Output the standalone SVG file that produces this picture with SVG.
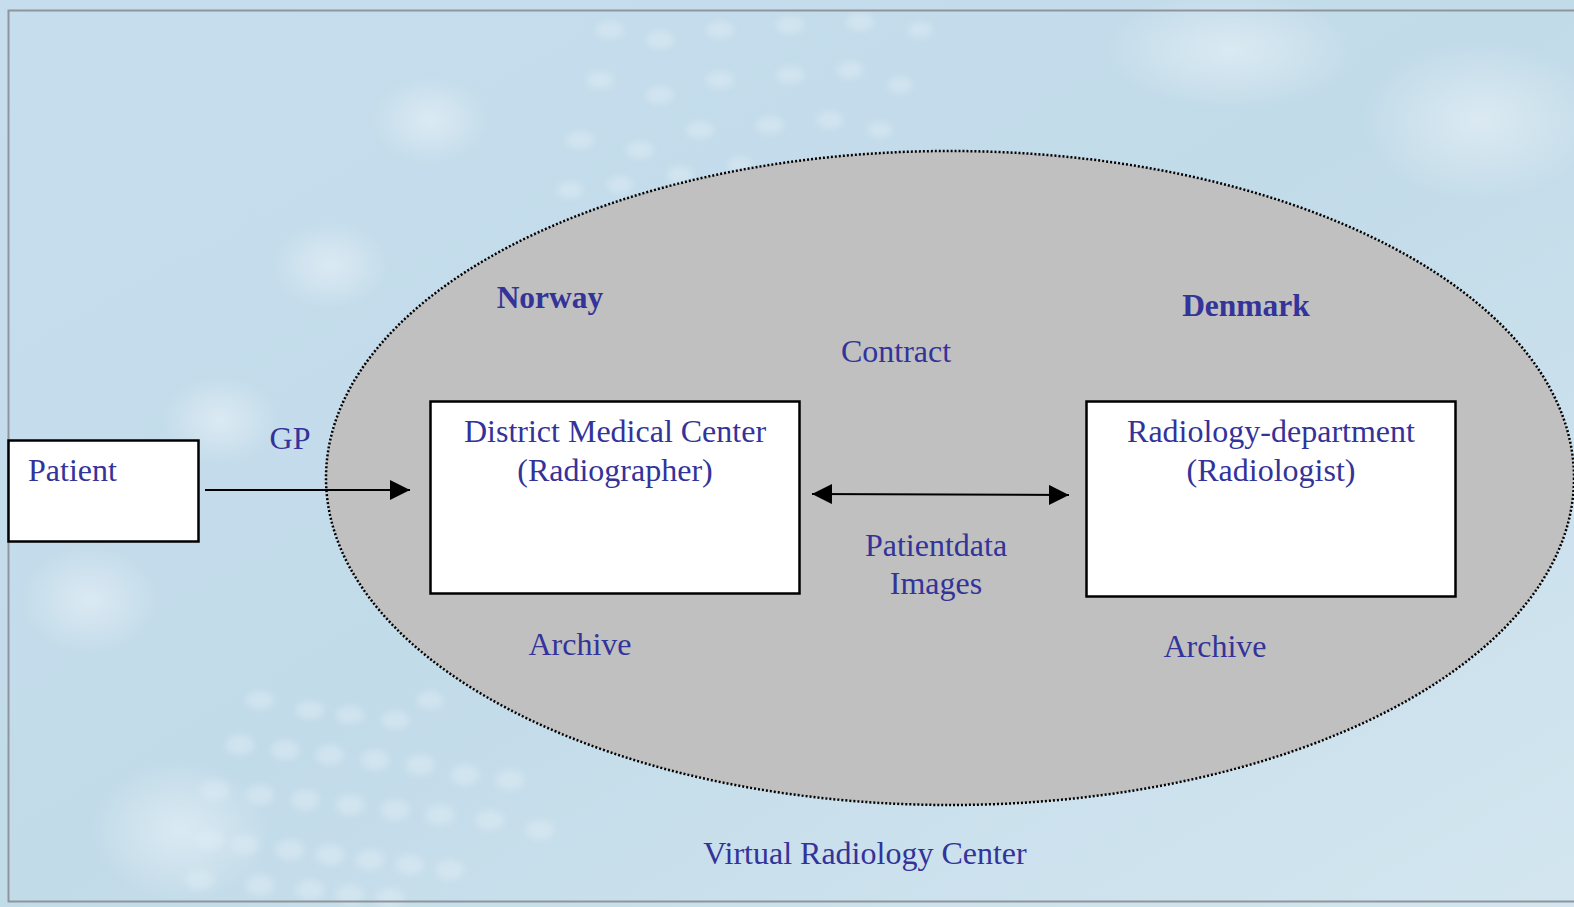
<svg xmlns="http://www.w3.org/2000/svg" width="1574" height="907" viewBox="0 0 1574 907">
<defs>
<linearGradient id="bg" x1="0" y1="0" x2="1" y2="1">
<stop offset="0" stop-color="#c6dded"/>
<stop offset="0.5" stop-color="#c2dbe9"/>
<stop offset="1" stop-color="#d3e6f0"/>
</linearGradient>
<radialGradient id="glow" cx="0.5" cy="0.5" r="0.5">
<stop offset="0" stop-color="#ffffff" stop-opacity="0.4"/>
<stop offset="1" stop-color="#ffffff" stop-opacity="0"/>
</radialGradient>
<filter id="blur" x="-50%" y="-50%" width="200%" height="200%"><feGaussianBlur stdDeviation="3"/></filter>
<marker id="arr" viewBox="0 0 10 10" refX="10" refY="5" markerWidth="20" markerHeight="20" markerUnits="userSpaceOnUse" orient="auto-start-reverse">
<path d="M0,0 L10,5 L0,10 Z" fill="#000"/>
</marker>
<style>
.t{font-family:"Liberation Serif","Times New Roman",serif;font-size:32px;fill:#333399}
.b{font-weight:bold;font-size:31.5px}
.box{fill:#fff;stroke:#000;stroke-width:2.5}
.dot{fill:#e3eff7;opacity:0.4}
</style>
</defs>
<rect x="0" y="0" width="1574" height="907" fill="url(#bg)"/>
<g id="background-deco" filter="url(#blur)">
<ellipse cx="430" cy="120" rx="60" ry="45" fill="url(#glow)"/>
<ellipse cx="330" cy="265" rx="60" ry="45" fill="url(#glow)"/>
<ellipse cx="90" cy="600" rx="70" ry="55" fill="url(#glow)"/>
<ellipse cx="220" cy="420" rx="60" ry="45" fill="url(#glow)"/>
<ellipse cx="180" cy="830" rx="90" ry="70" fill="url(#glow)"/>
<ellipse cx="1230" cy="50" rx="130" ry="60" fill="url(#glow)"/>
<ellipse cx="1480" cy="120" rx="120" ry="80" fill="url(#glow)"/>
<g class="dot">
<ellipse cx="610" cy="30" rx="14" ry="9"/><ellipse cx="660" cy="40" rx="14" ry="9"/><ellipse cx="720" cy="30" rx="14" ry="9"/><ellipse cx="790" cy="25" rx="14" ry="9"/><ellipse cx="860" cy="22" rx="14" ry="9"/><ellipse cx="920" cy="30" rx="12" ry="8"/>
<ellipse cx="600" cy="80" rx="14" ry="9"/><ellipse cx="660" cy="95" rx="14" ry="9"/><ellipse cx="720" cy="80" rx="14" ry="9"/><ellipse cx="790" cy="75" rx="14" ry="9"/><ellipse cx="850" cy="70" rx="13" ry="9"/><ellipse cx="900" cy="85" rx="12" ry="8"/>
<ellipse cx="580" cy="140" rx="14" ry="9"/><ellipse cx="640" cy="150" rx="14" ry="9"/><ellipse cx="700" cy="130" rx="14" ry="9"/><ellipse cx="770" cy="125" rx="14" ry="9"/><ellipse cx="830" cy="120" rx="13" ry="9"/><ellipse cx="880" cy="130" rx="12" ry="8"/>
<ellipse cx="570" cy="190" rx="13" ry="9"/><ellipse cx="620" cy="185" rx="13" ry="9"/><ellipse cx="680" cy="175" rx="13" ry="9"/><ellipse cx="740" cy="165" rx="12" ry="8"/>
<ellipse cx="260" cy="700" rx="14" ry="9"/><ellipse cx="310" cy="710" rx="14" ry="9"/><ellipse cx="350" cy="715" rx="14" ry="9"/><ellipse cx="395" cy="720" rx="14" ry="9"/><ellipse cx="430" cy="700" rx="13" ry="9"/>
<ellipse cx="240" cy="745" rx="14" ry="10"/><ellipse cx="285" cy="750" rx="14" ry="10"/><ellipse cx="330" cy="755" rx="14" ry="10"/><ellipse cx="375" cy="760" rx="14" ry="10"/><ellipse cx="420" cy="765" rx="14" ry="10"/><ellipse cx="465" cy="775" rx="14" ry="10"/><ellipse cx="510" cy="780" rx="14" ry="10"/>
<ellipse cx="215" cy="790" rx="14" ry="10"/><ellipse cx="260" cy="795" rx="14" ry="10"/><ellipse cx="305" cy="800" rx="14" ry="10"/><ellipse cx="350" cy="805" rx="14" ry="10"/><ellipse cx="395" cy="810" rx="14" ry="10"/><ellipse cx="440" cy="815" rx="14" ry="10"/><ellipse cx="490" cy="820" rx="14" ry="10"/><ellipse cx="540" cy="830" rx="14" ry="10"/>
<ellipse cx="210" cy="840" rx="14" ry="10"/><ellipse cx="245" cy="845" rx="14" ry="10"/><ellipse cx="290" cy="850" rx="14" ry="10"/><ellipse cx="330" cy="855" rx="14" ry="10"/><ellipse cx="370" cy="860" rx="14" ry="10"/><ellipse cx="410" cy="865" rx="14" ry="10"/><ellipse cx="450" cy="870" rx="14" ry="10"/>
<ellipse cx="200" cy="880" rx="14" ry="10"/><ellipse cx="260" cy="885" rx="14" ry="10"/><ellipse cx="310" cy="890" rx="14" ry="10"/><ellipse cx="350" cy="895" rx="14" ry="10"/><ellipse cx="390" cy="898" rx="14" ry="10"/>
</g>
</g>
<rect x="8.5" y="10.5" width="1580" height="891" fill="none" stroke="#8f959a" stroke-width="2"/>
<g id="virtual-radiology-center">
<ellipse cx="950" cy="478" rx="624" ry="327" fill="#c0c0c0" stroke="#000" stroke-width="2.5" stroke-dasharray="2 2"/>
<text class="t" x="865" y="864" text-anchor="middle">Virtual Radiology Center</text>
</g>
<g id="labels">
<text class="t b" x="550" y="308" text-anchor="middle">Norway</text>
<text class="t b" x="1246" y="316" text-anchor="middle">Denmark</text>
<text class="t" x="896" y="362" text-anchor="middle">Contract</text>
<text class="t" x="290" y="449" text-anchor="middle">GP</text>
<text class="t" x="936" y="556" text-anchor="middle">Patientdata</text>
<text class="t" x="936" y="594" text-anchor="middle">Images</text>
<text class="t" x="580" y="655" text-anchor="middle">Archive</text>
<text class="t" x="1215" y="657" text-anchor="middle">Archive</text>
</g>
<g id="patient">
<rect class="box" x="8.5" y="440.5" width="190" height="101"/>
<text class="t" x="28" y="481">Patient</text>
</g>
<g id="district-medical-center">
<rect class="box" x="430.5" y="401.5" width="369" height="192"/>
<text class="t" x="615" y="442" text-anchor="middle">District Medical Center</text>
<text class="t" x="615" y="481" text-anchor="middle">(Radiographer)</text>
</g>
<g id="radiology-department">
<rect class="box" x="1086.5" y="401.5" width="369" height="195"/>
<text class="t" x="1271" y="442" text-anchor="middle">Radiology-department</text>
<text class="t" x="1271" y="481" text-anchor="middle">(Radiologist)</text>
</g>
<g id="connectors" stroke="#000" stroke-width="2" fill="none">
<line x1="205" y1="490" x2="410" y2="490" marker-end="url(#arr)"/>
<line x1="812" y1="494" x2="1069" y2="495" marker-start="url(#arr)" marker-end="url(#arr)"/>
</g>
</svg>
